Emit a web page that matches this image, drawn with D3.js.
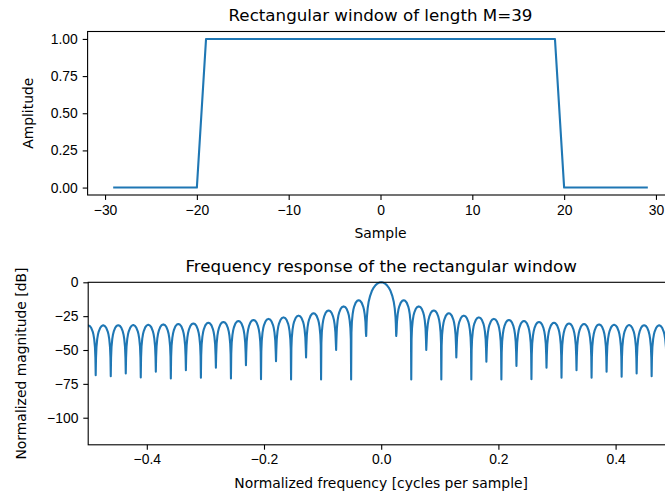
<!DOCTYPE html>
<html>
<head>
<meta charset="utf-8">
<script src="https://cdn.jsdelivr.net/npm/d3@7"></script>
<style>
  body { margin: 0; background: #fff; }
  svg { display: block; font-family: "DejaVu Sans", sans-serif; }
  .tick text { font-size: 13.9px; fill: #000; }
  .tick line { stroke: #000; stroke-width: 1.1px; }
  .domain { stroke: none; }
</style>
</head>
<body>
<svg id="chart" width="665" height="498"></svg>
<script>
// top panel: the window itself
const sampleIdx = [-29,-28,-27,-26,-25,-24,-23,-22,-21,-20,-19,-18,-17,-16,-15,-14,-13,-12,-11,-10,
  -9,-8,-7,-6,-5,-4,-3,-2,-1,0,1,2,3,4,5,6,7,8,9,10,11,12,13,14,15,16,17,18,19,
  20,21,22,23,24,25,26,27,28,29];
const windowVals = [0,0,0,0,0,0,0,0,0,0,1,1,1,1,1,1,1,1,1,1,
  1,1,1,1,1,1,1,1,1,1,1,1,1,1,1,1,1,1,1,1,1,1,1,1,1,1,1,1,1,
  0,0,0,0,0,0,0,0,0,0];
const topXTicks = [-30, -20, -10, 0, 10, 20, 30];
const topYTicks = [0, 0.25, 0.5, 0.75, 1.0];

// bottom panel: frequency response (dB)
const mainLobe = [[0,0],[0.0032,-0.2],[0.0064,-0.9],[0.0096,-2.1],[0.0128,-3.9],[0.016,-6.5],
  [0.0192,-10.4],[0.0215,-14.6],[0.0231,-19.2],[0.0244,-25.6],[0.0249,-30]];
const nullFreqs = [0.0256,0.0513,0.0769,0.1026,0.1282,0.1538,0.1795,0.2051,0.2308,0.2564,
  0.2821,0.3077,0.3333,0.3590,0.3846,0.4103,0.4359,0.4615,0.4872,0.5128];
const nullDepthsPos = [-39.7,-71.7,-50,-71.7,-55.5,-71.7,-58.7,-71.8,-61.7,-71.5,
  -63.1,-70.5,-64.9,-70.5,-66.1,-69.8,-67.3,-69.3,-68.6,-69];
const nullDepthsNeg = [-39.7,-71.7,-50,-71.7,-55.5,-71.7,-58.2,-71.5,-61.2,-71.0,
  -63.1,-70.5,-64.9,-71.0,-66.1,-70.3,-67.3,-69.3,-68.6,-69];
const lobePeaks = [-13.3,-17.8,-20.8,-22.9,-24.6,-25.9,-27.0,-27.8,-28.6,-29.3,
  -29.9,-30.4,-30.8,-31.1,-31.4,-31.6,-31.7,-31.8,-31.8];
// shape of one sidelobe: [fraction of lobe width from the null, dB below the lobe peak]
const lobeProfile = [[0.02,-24],[0.05,-16],[0.1,-10.2],[0.15,-6.8],[0.2,-4.6],[0.3,-1.8],[0.4,-0.4],[0.5,0]];
const botXTicks = [-0.4, -0.2, 0.0, 0.2, 0.4];
const botYTicks = [0, -25, -50, -75, -100];

const BLUE = "#1f77b4";
const svg = d3.select("#chart");
const fmtMinus = s => s.replace("-", "\u2212");

function halfSpectrum(depths) {
  const pts = mainLobe.map(d => [d[0], d[1]]);
  nullFreqs.forEach((f0, i) => {
    pts.push([f0, depths[i]]);
    if (i + 1 >= nullFreqs.length) return;
    const w = nullFreqs[i + 1] - f0;
    lobeProfile.forEach(([t, off]) => pts.push([f0 + t * w, lobePeaks[i] + off]));
    lobeProfile.slice(0, -1).reverse()
      .forEach(([t, off]) => pts.push([f0 + (1 - t) * w, lobePeaks[i] + off]));
  });
  return pts;
}

function drawAxes(g, x, y, xTicks, yTicks, xFmt, yFmt, box) {
  g.append("g")
    .attr("transform", `translate(0,${box.bottom})`)
    .call(d3.axisBottom(x).tickValues(xTicks).tickSize(4.9).tickPadding(4.9).tickFormat(d => fmtMinus(xFmt(d))));
  g.append("g")
    .attr("transform", `translate(${box.left},0)`)
    .call(d3.axisLeft(y).tickValues(yTicks).tickSize(4.9).tickPadding(4.9).tickFormat(d => fmtMinus(yFmt(d))));
  g.append("rect")
    .attr("x", box.left).attr("y", box.top)
    .attr("width", box.right - box.left).attr("height", box.bottom - box.top)
    .attr("fill", "none").attr("stroke", "#000").attr("stroke-width", 1.1);
}

// ---------- top ----------
const topBox = { left: 87.6, right: 673.4, top: 31.5, bottom: 195 };
const xTop = d3.scaleLinear().domain([-31.9, 31.9]).range([topBox.left, topBox.right]);
const yTop = d3.scaleLinear().domain([-0.05, 1.05]).range([topBox.bottom, topBox.top]);
const gTop = svg.append("g");

gTop.append("path")
  .datum(sampleIdx.map((s, i) => [s, windowVals[i]]))
  .attr("fill", "none").attr("stroke", BLUE).attr("stroke-width", 2.1)
  .attr("stroke-linejoin", "round").attr("stroke-linecap", "square")
  .attr("d", d3.line().x(d => xTop(d[0])).y(d => yTop(d[1])));

drawAxes(gTop, xTop, yTop, topXTicks, topYTicks, d3.format("d"), d3.format(".2f"), topBox);

gTop.append("text").attr("x", 380.5).attr("y", 21).attr("text-anchor", "middle")
  .attr("font-size", 16.7).text("Rectangular window of length M=39");
gTop.append("text").attr("x", 380.5).attr("y", 237.5).attr("text-anchor", "middle")
  .attr("font-size", 13.9).text("Sample");
gTop.append("text").attr("transform", `translate(33,${(topBox.top + topBox.bottom) / 2}) rotate(-90)`)
  .attr("text-anchor", "middle").attr("font-size", 13.9).text("Amplitude");

// ---------- bottom ----------
const botBox = { left: 88.2, right: 674.2, top: 282.3, bottom: 444.8 };
const xBot = d3.scaleLinear().domain([-0.5, 0.5]).range([botBox.left, botBox.right]);
const yBot = d3.scaleLinear().domain([-120, 0]).range([botBox.bottom, botBox.top]);
const gBot = svg.append("g");

svg.append("defs").append("clipPath").attr("id", "clipBot")
  .append("rect").attr("x", botBox.left).attr("y", botBox.top - 2)
  .attr("width", botBox.right - botBox.left).attr("height", botBox.bottom - botBox.top + 2);

const pos = halfSpectrum(nullDepthsPos);
const neg = halfSpectrum(nullDepthsNeg).slice(1).map(d => [-d[0], d[1]]).reverse();
const spectrum = neg.concat(pos);

gBot.append("path")
  .datum(spectrum)
  .attr("clip-path", "url(#clipBot)")
  .attr("fill", "none").attr("stroke", BLUE).attr("stroke-width", 2.1)
  .attr("stroke-linejoin", "round")
  .attr("d", d3.line().x(d => xBot(d[0])).y(d => yBot(d[1])));

drawAxes(gBot, xBot, yBot, botXTicks, botYTicks, d3.format(".1f"), d3.format("d"), botBox);

gBot.append("text").attr("x", 381.2).attr("y", 271.5).attr("text-anchor", "middle")
  .attr("font-size", 16.7).text("Frequency response of the rectangular window");
gBot.append("text").attr("x", 381.2).attr("y", 488).attr("text-anchor", "middle")
  .attr("font-size", 13.9).text("Normalized frequency [cycles per sample]");
gBot.append("text").attr("transform", `translate(25.5,${(botBox.top + botBox.bottom) / 2}) rotate(-90)`)
  .attr("text-anchor", "middle").attr("font-size", 13.9).text("Normalized magnitude [dB]");
</script>
</body>
</html>
